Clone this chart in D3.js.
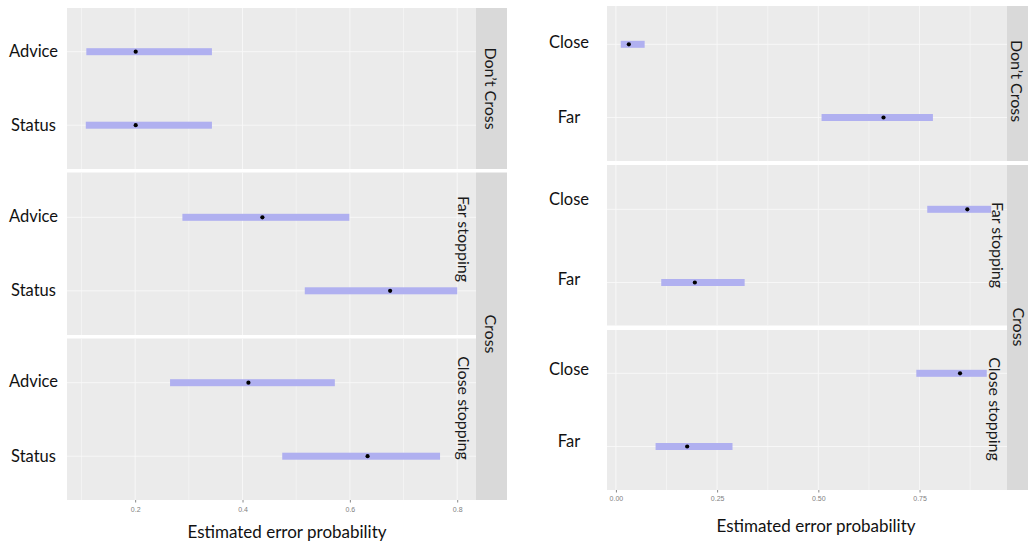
<!DOCTYPE html>
<html>
<head>
<meta charset="utf-8">
<script src="https://cdn.jsdelivr.net/npm/d3@7/dist/d3.min.js"></script>
<style>
    body { margin: 0; background: #fff; }
    svg { display: block; }
</style>
</head>
<body>
<svg id="chart" width="1028" height="543"></svg>
<script>
(function () {
    'use strict';

    // facets: outer strip groups and inner panels
    var outerFacets = ['Don\u2019t Cross', 'Cross'];
    var innerFacets = ['', 'Far stopping', 'Close stopping'];

    // left chart: message type
    var leftRows = ['Advice', 'Status'];
    var leftLow = [[0.109, 0.108], [0.288, 0.516], [0.265, 0.474]];
    var leftEst = [[0.201, 0.201], [0.437, 0.675], [0.411, 0.633]];
    var leftHigh = [[0.343, 0.343], [0.599, 0.800], [0.572, 0.768]];
    var leftTicks = [0.2, 0.4, 0.6, 0.8];
    var leftMinor = [0.1, 0.3, 0.5, 0.7];

    // right chart: distance
    var rightRows = ['Close', 'Far'];
    var rightLow = [[0.012, 0.508], [0.769, 0.112], [0.742, 0.098]];
    var rightEst = [[0.032, 0.661], [0.868, 0.195], [0.850, 0.176]];
    var rightHigh = [[0.071, 0.783], [0.927, 0.318], [0.916, 0.288]];
    var rightTicks = [0, 0.25, 0.5, 0.75];
    var rightMinor = [0.125, 0.375, 0.625, 0.875];

    var axisTitle = 'Estimated error probability';

    var FONT = 'Lato, "Open Sans", sans-serif';
    var PANEL_BG = '#ebebeb',
        STRIP_BG = '#d9d9d9',
        BAR_FILL = '#b0b0f0';

    var charts = [{
        rows: leftRows, low: leftLow, est: leftEst, high: leftHigh,
        ticks: leftTicks, minor: leftMinor, fmt: d3.format('.1f'),
        domain: [0.073, 0.835], x0: 67, x1: 476,
        panels: [[8, 169], [172.5, 335], [338.5, 500]],
        rowStart: [51.7, 217.3, 382.7], rowStep: 73.5,
        labelX: 33.5, labelShift: [[0, 0], [-1, -1], [-1, 0]],
        stripX: 476, stripW: 31,
        outerStrips: [[8, 169, 491, 88.5], [172.5, 500, 491, 334]],
        innerLabels: [null, [464, 239], [464, 408]],
        tickLabelY: 509.5, titleX: 287, titleY: 538
    }, {
        rows: rightRows, low: rightLow, est: rightEst, high: rightHigh,
        ticks: rightTicks, minor: rightMinor, fmt: d3.format('.2f'),
        domain: [-0.022, 0.966], x0: 607, x1: 1007,
        panels: [[6, 161], [165, 325.5], [330, 490]],
        rowStart: [44.3, 209.3, 373.3], rowStep: 73.2,
        labelX: 569, labelShift: [[-2, 0], [-10, -3], [-4, -5]],
        stripX: 1007, stripW: 30,
        outerStrips: [[6, 161, 1016.5, 81], [165, 490, 1018.5, 327]],
        innerLabels: [null, [997.5, 245], [995, 409]],
        tickLabelY: 499, titleX: 816, titleY: 531.5
    }];

    var svg = d3.select('#chart');

    charts.forEach(function (c, ci) {
        var g = svg.append('g').attr('class', 'chart chart-' + ci);

        var x = d3.scaleLinear()
            .domain(c.domain)
            .range([c.x0, c.x1]);

        c.panels.forEach(function (p, pi) {
            var panel = g.append('g').attr('class', 'panel');

            var y = d3.scalePoint()
                .domain(c.rows)
                .range([c.rowStart[pi], c.rowStart[pi] + c.rowStep]);

            panel.append('rect')
                .attr('x', c.x0)
                .attr('y', p[0])
                .attr('width', c.x1 - c.x0)
                .attr('height', p[1] - p[0])
                .attr('fill', PANEL_BG);

            // minor grid
            panel.selectAll('.minor')
                .data(c.minor)
                .enter().append('line')
                .attr('class', 'minor')
                .attr('x1', function (d) { return x(d); })
                .attr('x2', function (d) { return x(d); })
                .attr('y1', p[0])
                .attr('y2', p[1])
                .attr('stroke', '#f6f6f6')
                .attr('stroke-width', 0.7);

            // major grid
            panel.selectAll('.major')
                .data(c.ticks)
                .enter().append('line')
                .attr('class', 'major')
                .attr('x1', function (d) { return x(d); })
                .attr('x2', function (d) { return x(d); })
                .attr('y1', p[0])
                .attr('y2', p[1])
                .attr('stroke', '#f8f8f8')
                .attr('stroke-width', 0.9);

            panel.selectAll('.hgrid')
                .data(c.rows)
                .enter().append('line')
                .attr('class', 'hgrid')
                .attr('x1', c.x0)
                .attr('x2', c.x1)
                .attr('y1', function (d) { return y(d); })
                .attr('y2', function (d) { return y(d); })
                .attr('stroke', '#f8f8f8')
                .attr('stroke-width', 0.9);

            // interval bars
            panel.selectAll('.bar')
                .data(c.rows)
                .enter().append('rect')
                .attr('class', 'bar')
                .attr('x', function (d, i) { return x(c.low[pi][i]); })
                .attr('width', function (d, i) { return x(c.high[pi][i]) - x(c.low[pi][i]); })
                .attr('y', function (d) { return y(d) - 3.5; })
                .attr('height', 7)
                .attr('fill', BAR_FILL);

            panel.selectAll('.pt')
                .data(c.rows)
                .enter().append('circle')
                .attr('class', 'pt')
                .attr('cx', function (d, i) { return x(c.est[pi][i]); })
                .attr('cy', function (d) { return y(d); })
                .attr('r', 2.1)
                .attr('fill', '#000');

            panel.selectAll('.rowlabel')
                .data(c.rows)
                .enter().append('text')
                .attr('class', 'rowlabel')
                .attr('x', c.labelX)
                .attr('y', function (d, i) { return y(d) + c.labelShift[pi][i]; })
                .attr('dy', '0.35em')
                .attr('text-anchor', 'middle')
                .style('font-family', FONT)
                .style('font-size', '16.5px')
                .style('fill', '#111')
                .text(function (d) { return d; });

            if (c.innerLabels[pi]) {
                panel.append('text')
                    .attr('transform', 'translate(' + c.innerLabels[pi].join(',') + ') rotate(90)')
                    .attr('dy', '0.35em')
                    .attr('text-anchor', 'middle')
                    .style('font-family', FONT)
                    .style('font-size', '16px')
                    .style('fill', '#1a1a1a')
                    .text(innerFacets[pi]);
            }
        });

        // outer strips
        c.outerStrips.forEach(function (s, si) {
            g.append('rect')
                .attr('x', c.stripX)
                .attr('y', s[0])
                .attr('width', c.stripW)
                .attr('height', s[1] - s[0])
                .attr('fill', STRIP_BG);

            g.append('text')
                .attr('transform', 'translate(' + s[2] + ',' + s[3] + ') rotate(90)')
                .attr('dy', '0.35em')
                .attr('text-anchor', 'middle')
                .style('font-family', FONT)
                .style('font-size', '16px')
                .style('fill', '#1a1a1a')
                .text(outerFacets[si]);
        });

        // bottom axis
        var bottom = c.panels[c.panels.length - 1][1];
        var axis = g.append('g')
            .attr('transform', 'translate(0,' + bottom + ')')
            .call(d3.axisBottom(x)
                .tickValues(c.ticks)
                .tickSize(2.5)
                .tickPadding(c.tickLabelY - bottom - 5)
                .tickFormat(c.fmt));
        axis.select('.domain').remove();
        axis.selectAll('.tick line').attr('stroke', '#888');
        axis.selectAll('.tick text')
            .style('font-family', '"Liberation Sans", Arial, sans-serif')
            .style('font-size', '7px')
            .style('fill', '#808080');

        g.append('text')
            .attr('x', c.titleX)
            .attr('y', c.titleY)
            .attr('text-anchor', 'middle')
            .style('font-family', FONT)
            .style('font-size', '17px')
            .style('fill', '#111')
            .text(axisTitle);
    });
})();
</script>
</body>
</html>
